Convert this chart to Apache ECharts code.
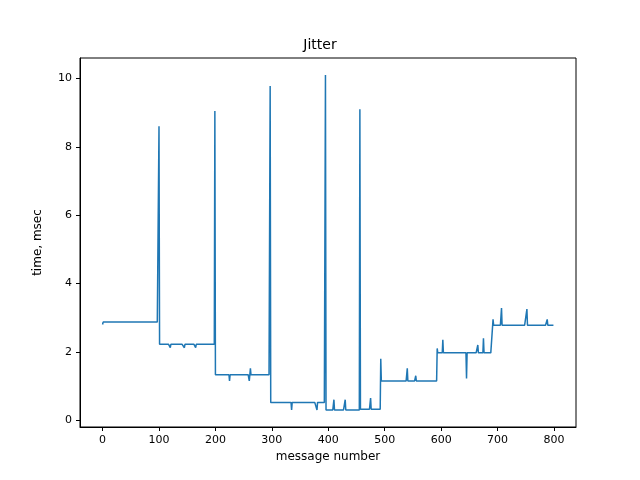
<!DOCTYPE html>
<html>
<head>
<meta charset="utf-8">
<script src="https://cdn.jsdelivr.net/npm/echarts@6/dist/echarts.min.js"></script>
<style>html,body{margin:0;background:#fff}#main{width:640px;height:480px}</style>
</head>
<body>
<div id="main"></div>
<script>
// plateau segments: start index, end index, level (msec)
var segStart = [0, 100, 199, 297, 395, 456, 493, 593, 692];
var segEnd   = [99, 198, 296, 394, 455, 492, 592, 691, 799];
var segLevel = [2.87, 2.22, 1.33, 0.52, 0.30, 0.32, 1.15, 1.97, 2.78];

// individual spikes / dips: message number and value
var spikeIdx = [0, 100, 120, 145, 165, 199, 225, 260, 262, 297, 335, 380, 395, 410, 430, 456, 475, 493, 540, 555, 593, 603, 645, 665, 675, 692, 707, 752, 788];
var spikeVal = [2.80, 8.60, 2.12, 2.12, 2.12, 9.05, 1.15, 1.15, 1.52, 9.78, 0.30, 0.30, 10.1, 0.60, 0.60, 9.10, 0.65, 1.80, 1.52, 1.30, 2.10, 2.35, 1.22, 2.20, 2.40, 2.95, 3.28, 3.25, 2.95];

var xTicks = [0, 100, 200, 300, 400, 500, 600, 700, 800];
var yTicks = [0, 2, 4, 6, 8, 10];

var data = [];
for (var s = 0; s < segStart.length; s++) {
    for (var i = segStart[s]; i <= segEnd[s]; i++) data[i] = [i, segLevel[s]];
}
for (var k = 0; k < spikeIdx.length; k++) data[spikeIdx[k]] = [spikeIdx[k], spikeVal[k]];

var font = 'DejaVu Sans';
var chart = echarts.init(document.getElementById('main'));
chart.setOption({
    animation: false,
    title: {text: 'Jitter', left: 'center', top: 33, textStyle: {fontFamily: font, fontSize: 14, fontWeight: 'normal', color: '#000'}},
    grid: {left: 80, right: 64, top: 58, bottom: 53},
    xAxis: {
        type: 'value', min: -40, max: 839,
        name: 'message number', nameLocation: 'middle', nameGap: 24,
        nameTextStyle: {fontFamily: font, fontSize: 12, color: '#000'},
        axisLine: {onZero: false, lineStyle: {color: '#000'}},
        axisTick: {length: 4, lineStyle: {color: '#000'}, customValues: xTicks},
        axisLabel: {fontFamily: font, fontSize: 11, color: '#000', customValues: xTicks},
        splitLine: {show: false}
    },
    yAxis: {
        type: 'value', min: -0.2, max: 10.6,
        name: 'time, msec', nameLocation: 'middle', nameGap: 36,
        nameTextStyle: {fontFamily: font, fontSize: 12, color: '#000'},
        axisLine: {show: true, onZero: false, lineStyle: {color: '#000'}},
        axisTick: {show: true, length: 4, lineStyle: {color: '#000'}, customValues: yTicks},
        axisLabel: {fontFamily: font, fontSize: 11, color: '#000', customValues: yTicks},
        splitLine: {show: false}
    },
    series: [{
        type: 'line', data: data, showSymbol: false,
        lineStyle: {color: '#1f77b4', width: 1.5}
    }]
});
// right and top frame
chart.setOption({graphic: [{type: 'rect', shape: {x: 80, y: 58, width: 496, height: 369}, style: {fill: 'none', stroke: '#000', lineWidth: 1}, silent: true}]});
</script>
</body>
</html>
